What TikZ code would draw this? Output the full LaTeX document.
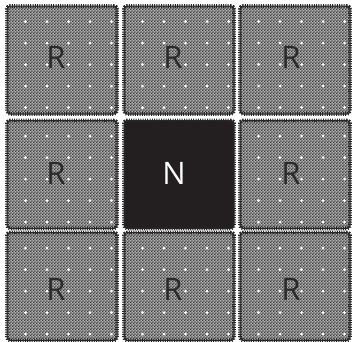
\documentclass[tikz,border=0pt]{standalone}
\usepackage{fontspec}
\setmainfont{Open Sans}
\usetikzlibrary{patterns,calc}
\pgfdeclarepatternformonly{finecheck}{\pgfqpoint{0pt}{0pt}}{\pgfqpoint{3.2pt}{3.2pt}}{\pgfqpoint{3.2pt}{3.2pt}}{%
  \pgfpathrectangle{\pgfpointorigin}{\pgfqpoint{1.6pt}{1.6pt}}%
  \pgfpathrectangle{\pgfqpoint{1.6pt}{1.6pt}}{\pgfqpoint{1.6pt}{1.6pt}}%
  \pgfusepath{fill}}
\definecolor{checklight}{HTML}{B0B0B0}
\definecolor{checkdark}{HTML}{3C3C3C}
\definecolor{edgecol}{HTML}{262626}
\definecolor{nfill}{HTML}{231F20}
\definecolor{letter}{HTML}{2A2A2A}
\tikzset{
  cell/.style={minimum width=110pt, minimum height=108pt, inner sep=0pt,
    rounded corners=3pt, draw=edgecol, line width=1pt,
    postaction={draw=edgecol, line width=3.6pt, dash pattern=on 1pt off 1.3pt}},
  rbox/.style={cell, preaction={fill=checklight}, pattern=finecheck, pattern color=checkdark},
  nbox/.style={cell, fill=nfill},
  rlabel/.style={font=\fontsize{31}{31}\selectfont, text=letter, inner sep=0pt},
  nlabel/.style={font=\fontsize{31}{31}\selectfont, text=white, inner sep=0pt},
  wdot/.style={fill=white, draw=none}
}
\begin{document}
\begin{tikzpicture}[x=1pt, y=-1pt]
\useasboundingbox (0,0) rectangle (352,341);
% boxes
\foreach \r/\cy in {1/60, 2/174.5, 3/286.5}{
  \foreach \c/\cx in {1/62, 2/179, 3/295}{
    \ifnum\r=2 \ifnum\c=2
      \node[nbox] (b\r\c) at (\cx,\cy) {};
    \else
      \node[rbox] (b\r\c) at (\cx,\cy) {};
    \fi\else
      \node[rbox] (b\r\c) at (\cx,\cy) {};
    \fi
  }
}
% white dots on R boxes
\foreach \r in {1,2,3}{
  \foreach \c in {1,2,3}{
    \ifnum\r=2 \ifnum\c=2 \else
      \foreach \i in {0,...,4}{\foreach \j in {0,...,4}{
        \fill[wdot] ($(b\r\c.north west)+(19+21.5*\i,16+21.5*\j)$) circle (1.5pt);}}
    \fi\else
      \foreach \i in {0,...,4}{\foreach \j in {0,...,4}{
        \fill[wdot] ($(b\r\c.north west)+(19+21.5*\i,16+21.5*\j)$) circle (1.5pt);}}
    \fi
  }
}
% letters
\node[rlabel] (t11) at ([xshift=-6pt,yshift=3pt]b11.center) {R};
\node[rlabel] (t12) at ([xshift=-6pt,yshift=3pt]b12.center) {R};
\node[rlabel] (t13) at ([xshift=-4pt,yshift=3pt]b13.center) {R};
\node[rlabel] (t21) at ([xshift=-6pt,yshift=1pt]b21.center) {R};
\node[nlabel] (t22) at ([xshift=-5pt,yshift=1pt]b22.center) {N};
\node[rlabel] (t23) at ([xshift=-4pt,yshift=1pt]b23.center) {R};
\node[rlabel] (t31) at ([xshift=-6pt,yshift=-3pt]b31.center) {R};
\node[rlabel] (t32) at ([xshift=-6pt,yshift=-3pt]b32.center) {R};
\node[rlabel] (t33) at ([xshift=-4pt,yshift=-3pt]b33.center) {R};
\end{tikzpicture}
\end{document}
